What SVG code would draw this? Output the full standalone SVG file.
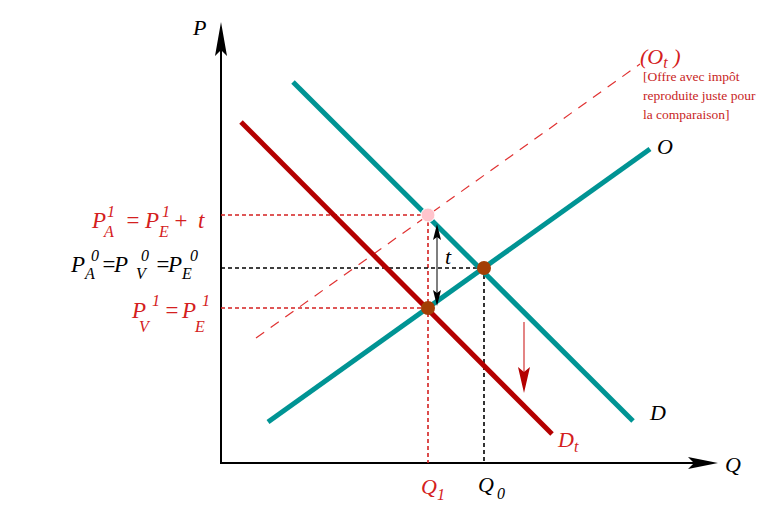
<svg xmlns="http://www.w3.org/2000/svg" width="775" height="510" viewBox="0 0 775 510">
<style>
.t{font-family:"Liberation Serif","Times New Roman",serif;font-style:italic;font-size:22px}
.L{font-size:23px}
.s{font-size:16px}
.red{fill:#d42020}
.blk{fill:#000}
.note{font-family:"Liberation Serif","Times New Roman",serif;font-size:13.5px;fill:#c81e1e}
.axis{stroke:#000;stroke-width:2;fill:none}
.teal{stroke:#009494;stroke-width:5;stroke-linecap:butt;fill:none}
.dred{stroke:#b40000;stroke-width:5;fill:none}
.rdash{stroke:#d42020;stroke-width:1.6;stroke-dasharray:4,3;fill:none}
.kdash{stroke:#000;stroke-width:1.6;stroke-dasharray:4,3;fill:none}
.ot{stroke:#e03232;stroke-width:1.2;stroke-dasharray:10,8;fill:none}
</style>
<g id="axes">
<line class="axis" x1="221" y1="464" x2="221" y2="40"/>
<line class="axis" x1="220" y1="463" x2="700" y2="463"/>
<path d="M221,22 L227,56 L221,50 L215,56 Z" fill="#000"/>
<path d="M718,463 L688,457 L694,463 L688,469 Z" fill="#000"/>
<text class="t blk" x="193" y="35">P</text>
<text class="t blk" x="725" y="472">Q</text>
</g>
<g id="connectors">
<line class="rdash" x1="221" y1="215" x2="428" y2="215"/>
<line class="rdash" x1="428" y1="215" x2="428" y2="463"/>
<line class="rdash" x1="221" y1="308" x2="428" y2="308"/>
<line class="kdash" x1="221" y1="268" x2="484" y2="268"/>
<line class="kdash" x1="484" y1="268" x2="484" y2="463"/>
<line class="ot" x1="256" y1="338" x2="640" y2="64"/>
<line class="dred" x1="241" y1="122" x2="552" y2="434"/>
<line class="teal" x1="293" y1="82" x2="633" y2="421"/>
<line class="teal" x1="268" y1="422" x2="650" y2="149"/>
<line x1="437" y1="236" x2="437" y2="294" stroke="#555" stroke-width="1.5"/>
<path d="M437,224 L441,240 L437,237 L433,240 Z" fill="#000"/>
<path d="M437,306 L441,290 L437,293 L433,290 Z" fill="#000"/>
<line x1="524" y1="322" x2="524" y2="372" stroke="#d66" stroke-width="1.6"/>
<path d="M524,393 L530,367 L524,372 L518,367 Z" fill="#b40000"/>
</g>
<g id="points">
<circle cx="484" cy="268" r="7" fill="#a33f06"/>
<circle cx="428" cy="308" r="7" fill="#a33f06"/>
<circle cx="428" cy="215" r="7" fill="#ffc4cc" stroke="#fff" stroke-width="1"/>
</g>
<g id="label-pa1">
<text class="t L red" x="92" y="228">P<tspan class="s" x="107" y="217">1</tspan><tspan class="s" x="104" y="237">A</tspan><tspan x="125" y="228">=</tspan><tspan x="145" y="228">P</tspan><tspan class="s" x="162" y="217">1</tspan><tspan class="s" x="159" y="237">E</tspan><tspan x="173" y="228">+</tspan><tspan x="198" y="228">t</tspan></text>
</g>
<g id="label-p0">
<text class="t L blk" x="71" y="272">P<tspan class="s" x="91" y="261">0</tspan><tspan class="s" x="85" y="279">A</tspan><tspan x="101" y="272">=</tspan><tspan x="114" y="272">P</tspan><tspan class="s" x="141" y="261">0</tspan><tspan class="s" x="136" y="279">V</tspan><tspan x="155" y="272">=</tspan><tspan x="168" y="272">P</tspan><tspan class="s" x="190" y="261">0</tspan><tspan class="s" x="182" y="279">E</tspan></text>
</g>
<g id="label-pv1">
<text class="t L red" x="132" y="318">P<tspan class="s" x="152" y="306">1</tspan><tspan class="s" x="139" y="332">V</tspan><tspan x="164" y="318">=</tspan><tspan x="182" y="318">P</tspan><tspan class="s" x="202" y="306">1</tspan><tspan class="s" x="195" y="332">E</tspan></text>
</g>
<g id="label-t"><text class="t blk" x="445" y="264">t</text></g>
<g id="label-O"><text class="t blk" x="657" y="154">O</text></g>
<g id="label-D"><text class="t blk" x="650" y="420">D</text></g>
<g id="label-Dt"><text class="t red" x="558" y="447">D<tspan class="s" dy="5">t</tspan></text></g>
<g id="label-Q1"><text class="t red" x="421" y="494">Q<tspan class="s" dy="6">1</tspan></text></g>
<g id="label-Q0"><text class="t blk" x="478" y="492">Q<tspan class="s" dx="3" dy="7">0</tspan></text></g>
<g id="label-Ot">
<text class="t red" x="640" y="64">(O<tspan class="s" dy="4">t</tspan><tspan dy="-4"> )</tspan></text>
<text class="note" x="643" y="81">[Offre avec impôt</text>
<text class="note" x="643" y="100">reproduite juste pour</text>
<text class="note" x="643" y="119">la comparaison]</text>
</g>
</svg>
